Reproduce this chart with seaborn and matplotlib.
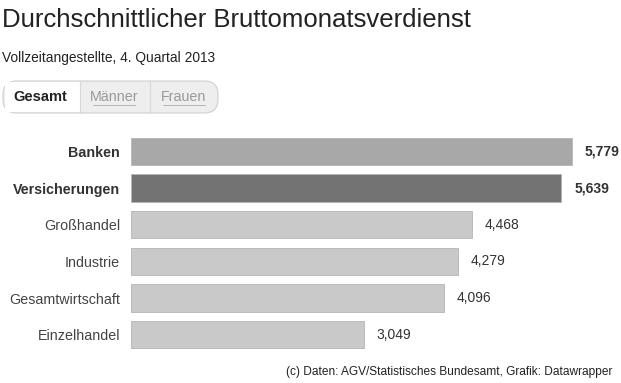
import matplotlib
matplotlib.use("Agg")
import matplotlib.pyplot as plt
import seaborn as sns
import pandas as pd
from matplotlib.patches import FancyBboxPatch, Rectangle
from matplotlib.lines import Line2D

# Daten
branchen = ["Banken", "Versicherungen", "Großhandel", "Industrie",
            "Gesamtwirtschaft", "Einzelhandel"]
verdienst = [5779, 5639, 4468, 4279, 4096, 3049]
wert_labels = ["5,779", "5,639", "4,468", "4,279", "4,096", "3,049"]
hervorgehoben = [True, True, False, False, False, False]
farben = ["#a8a8a8", "#737373", "#c9c9c9", "#c9c9c9", "#c9c9c9", "#c9c9c9"]

df = pd.DataFrame({"branche": branchen, "verdienst": verdienst})

W, H = 621, 383
sns.set_style("white")
plt.rcParams["font.family"] = ["Liberation Sans", "DejaVu Sans"]

fig = plt.figure(figsize=(W / 100, H / 100), dpi=100)

# Achse so platzieren, dass 0 bei x=131 px liegt
left_px, right_px = 131, 610
top_px, bottom_px = 133, 353
ax = fig.add_axes([left_px / W, 1 - bottom_px / H,
                   (right_px - left_px) / W, (bottom_px - top_px) / H])

sns.barplot(data=df, x="verdienst", y="branche", hue="branche",
            palette=farben, legend=False, width=0.75, ax=ax,
            edgecolor="#b5b5b5", linewidth=0.6)

ax.set_xlim(0, (right_px - left_px) / ((572 - 131) / 5779))
ax.set_ylim(len(branchen) - 0.5, -0.5)
sns.despine(ax=ax, left=True, bottom=True)
ax.set_xticks([])
ax.set_xlabel("")
ax.set_ylabel("")
ax.tick_params(axis="y", length=0, pad=8)
for lbl, hl in zip(ax.get_yticklabels(), hervorgehoben):
    lbl.set_fontsize(10.3)
    lbl.set_color("#333333" if hl else "#444444")
    lbl.set_fontweight("bold" if hl else "normal")

for i, (v, t, hl) in enumerate(zip(verdienst, wert_labels, hervorgehoben)):
    ax.text(v + 170, i, t, va="center", ha="left", fontsize=10,
            color="#333333", fontweight="bold" if hl else "normal")

# Titel und Untertitel
fig.text(2 / W, 1 - 20 / H, "Durchschnittlicher Bruttomonatsverdienst",
         fontsize=18.5, color="#222222", va="center", ha="left")
fig.text(2 / W, 1 - 58 / H, "Vollzeitangestellte, 4. Quartal 2013",
         fontsize=9.9, color="#222222", va="center", ha="left")

# Schaltflächen
bx0, bx1, by0, by1 = 3, 218, 81, 113
box = FancyBboxPatch((bx0 / W, 1 - by1 / H), (bx1 - bx0) / W, (by1 - by0) / H,
                     boxstyle="round,pad=0,rounding_size=0.022",
                     transform=fig.transFigure, facecolor="#eeeeee",
                     edgecolor="#d0d0d0", linewidth=0.8, mutation_aspect=W / H)
fig.patches.append(box)
fig.patches.append(Rectangle((bx0 / W + 0.004, 1 - (by1 - 1) / H), (80 - bx0) / W - 0.004,
                             (by1 - by0 - 2) / H, transform=fig.transFigure,
                             facecolor="white", edgecolor="none"))
for xd in [80, 150]:
    fig.lines.append(Line2D([xd / W, xd / W], [1 - by1 / H, 1 - by0 / H],
                            transform=fig.transFigure, color="#d8d8d8", lw=0.8))
fig.text(40 / W, 1 - 97 / H, "Gesamt", fontsize=10.5, fontweight="bold",
         color="#222222", ha="center", va="center")
for name, xc in [("Männer", 114), ("Frauen", 184)]:
    fig.text(xc / W, 1 - 97 / H, name, fontsize=10.3, color="#999999",
             ha="center", va="center")
    half = len(name) * 3.5
    fig.lines.append(Line2D([(xc - half) / W, (xc + half) / W], [1 - 105 / H, 1 - 105 / H],
                            transform=fig.transFigure, color="#aaaaaa", lw=0.6))

# Quelle
fig.text(612 / W, 1 - 372 / H,
         "(c) Daten: AGV/Statistisches Bundesamt, Grafik: Datawrapper",
         fontsize=8.6, color="#222222", ha="right", va="center")

fig.savefig("out.png", dpi=100)
